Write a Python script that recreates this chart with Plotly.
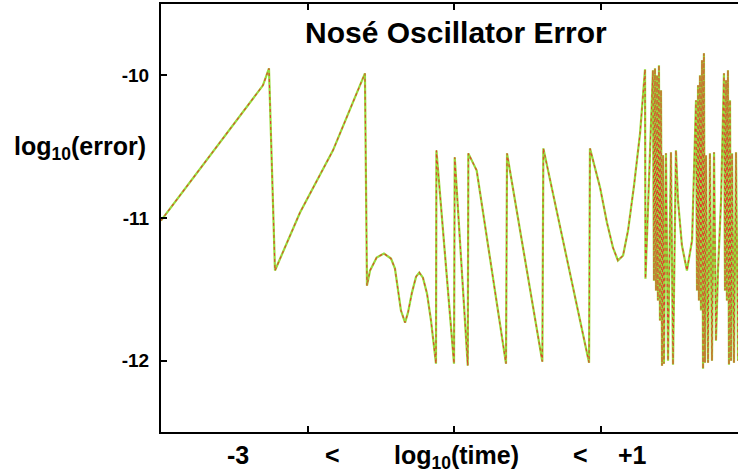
import plotly.graph_objects as go

# log10(time) and log10(error) samples of the integration error
log_time = [
    -3.000, -2.304, -2.263, -2.222, -2.051, -1.826, -1.608,
    -1.594, -1.573, -1.528, -1.478, -1.430, -1.403, -1.382, -1.362,
    -1.334, -1.314, -1.287, -1.259, -1.237, -1.212, -1.184, -1.157,
    -1.123, -1.120, -1.000,
    -0.995, -0.906, -0.902, -0.845, -0.645, -0.638, -0.397, -0.390,
    -0.078, -0.072, -0.051, -0.003, 0.044, 0.085, 0.119, 0.154,
    0.188, 0.229, 0.270, 0.304, 0.307,
    0.358, 0.365, 0.372, 0.379, 0.386, 0.392, 0.399, 0.406, 0.413, 0.420,
    0.427, 0.433, 0.447, 0.461, 0.481, 0.495, 0.515, 0.529, 0.556, 0.590,
    0.625, 0.652, 0.659, 0.666, 0.672, 0.679, 0.686, 0.693, 0.700, 0.706,
    0.713, 0.720, 0.734, 0.747, 0.761, 0.775, 0.788, 0.802, 0.823, 0.843,
    0.850, 0.857, 0.863, 0.870, 0.877, 0.884, 0.891, 0.898, 0.911, 0.925,
    0.939,
]
log_error = [
    -11.018, -10.070, -9.951, -11.368, -10.961, -10.526, -9.986,
    -11.474, -11.368, -11.277, -11.249, -11.284, -11.354, -11.509, -11.649,
    -11.733, -11.663, -11.523, -11.411, -11.382, -11.418, -11.530, -11.719,
    -12.021, -10.526, -12.021,
    -10.575, -12.035, -10.547, -10.667, -12.021, -10.547, -12.007, -10.512,
    -12.014, -10.512, -10.596, -10.786, -11.032, -11.207, -11.298, -11.263,
    -11.088, -10.772, -10.407, -9.958, -11.425,
    -9.965, -11.439, -9.951, -11.509, -10.000, -11.579, -9.930, -11.719, -10.105, -12.035,
    -10.561, -12.021, -10.547, -12.000, -10.540, -12.028, -10.526, -10.877, -11.193, -11.368,
    -11.158, -10.175, -11.509, -10.070, -11.579, -10.000, -11.649, -9.895, -12.056, -9.846,
    -12.014, -10.561, -12.014, -10.547, -12.000, -10.540, -11.860, -11.368, -10.877, -9.986,
    -11.509, -10.035, -11.579, -9.965, -12.028, -10.175, -12.000, -10.547, -12.014, -10.540,
    -12.000,
]

y_ticks = [-12, -11, -10]
y_tick_labels = ["-12", "-11", "-10"]
x_ticks = [-2, -1, 0]

FONT = "Liberation Sans"

fig = go.Figure()
fig.add_trace(go.Scatter(
    x=log_time, y=log_error, mode="lines",
    line=dict(color="#97dc3c", width=2.2),
    hoverinfo="skip", showlegend=False,
))
fig.add_trace(go.Scatter(
    x=log_time, y=log_error, mode="lines",
    line=dict(color="#e0402c", width=1.1, dash="dot"),
    hoverinfo="skip", showlegend=False,
))

fig.update_layout(
    width=738, height=474,
    margin=dict(l=161, r=0, t=4, b=42),
    paper_bgcolor="white", plot_bgcolor="white",
    font=dict(family=FONT, color="black"),
    showlegend=False,
)
fig.update_xaxes(
    range=[-3, 0.9386], tickvals=x_ticks, showticklabels=False,
    ticks="inside", ticklen=6, tickwidth=1.5, tickcolor="black",
    showline=True, linecolor="black", linewidth=2, mirror="ticks",
    showgrid=False, zeroline=False,
)
fig.update_yaxes(
    range=[-12.5, -9.5], tickvals=y_ticks,
    ticktext=[f"<b>{t}</b>" for t in y_tick_labels],
    tickfont=dict(family=FONT, size=19, color="black"),
    ticks="inside", ticklen=6, tickwidth=1.5, tickcolor="black",
    ticklabelstandoff=6,
    showline=True, linecolor="black", linewidth=2,
    showgrid=False, zeroline=False,
)

annotations = [
    dict(text="<b>Nosé Oscillator Error</b>", x=456, y=32, size=30),
    dict(text="<b>log<sub>10</sub>(error)</b>", x=80, y=148, size=25),
    dict(text="<b>-3</b>", x=238, y=455, size=25),
    dict(text="<b>&lt;</b>", x=332, y=455, size=25),
    dict(text="<b>log<sub>10</sub>(time)</b>", x=456, y=457, size=25),
    dict(text="<b>&lt;</b>", x=580, y=455, size=25),
    dict(text="<b>+1</b>", x=632, y=455, size=25),
]
for a in annotations:
    fig.add_annotation(
        text=a["text"], xref="paper", yref="paper",
        x=(a["x"] - 161) / 577, y=(432 - a["y"]) / 428,
        xanchor="center", yanchor="middle", showarrow=False,
        font=dict(family=FONT, size=a["size"], color="black"),
    )

fig.write_html("out.html")
